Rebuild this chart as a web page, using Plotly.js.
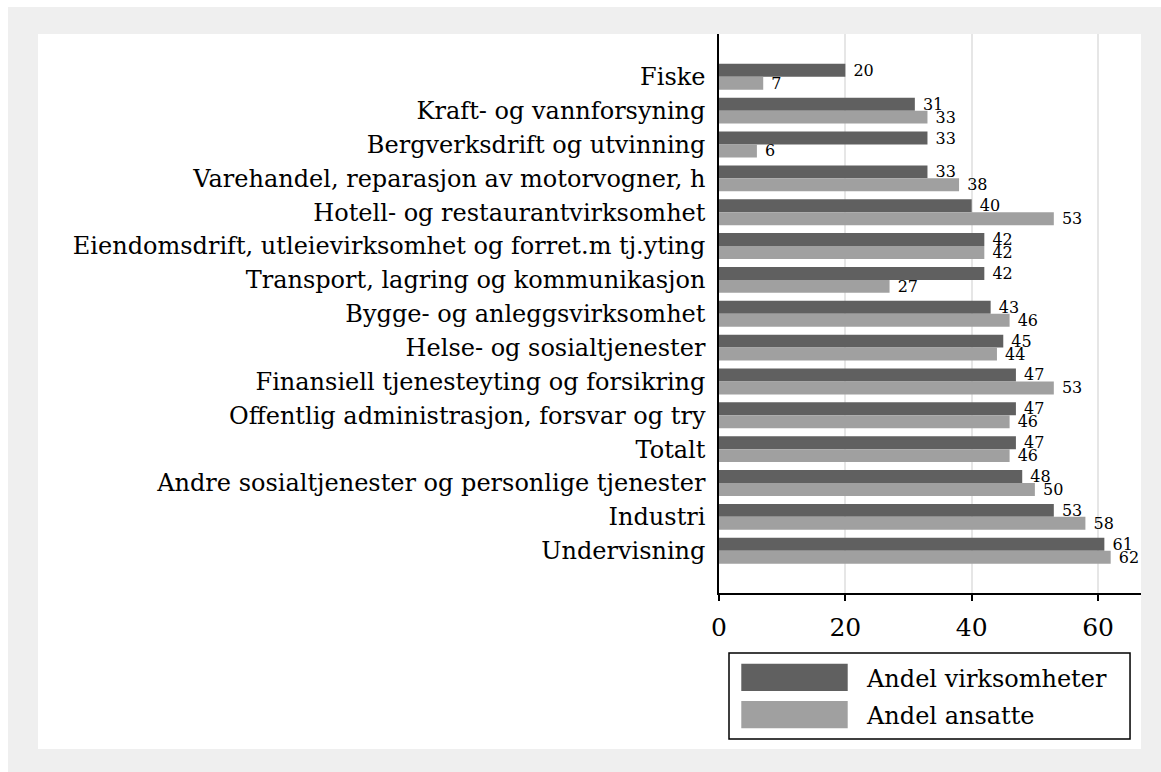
<!DOCTYPE html>
<html>
<head>
<meta charset="utf-8">
<script src="https://cdn.plot.ly/plotly-3.0.1.min.js"></script>
<style>
  html, body { margin: 0; padding: 0; background: #ffffff; }
  #frame { position: absolute; left: 8px; top: 7px; width: 1153px; height: 765px; background: #efefef; }
  #chart { position: absolute; left: 30px; top: 27px; width: 1103px; height: 715px; }
</style>
</head>
<body>
<div id="frame"><div id="chart"></div></div>
<script>
const categories = [
  "Fiske",
  "Kraft- og vannforsyning",
  "Bergverksdrift og utvinning",
  "Varehandel, reparasjon av motorvogner, h",
  "Hotell- og restaurantvirksomhet",
  "Eiendomsdrift, utleievirksomhet og forret.m tj.yting",
  "Transport, lagring og kommunikasjon",
  "Bygge- og anleggsvirksomhet",
  "Helse- og sosialtjenester",
  "Finansiell tjenesteyting og forsikring",
  "Offentlig administrasjon, forsvar og try",
  "Totalt",
  "Andre sosialtjenester og personlige tjenester",
  "Industri",
  "Undervisning"
];
const andelVirksomheter = [20, 31, 33, 33, 40, 42, 42, 43, 45, 47, 47, 47, 48, 53, 61];
const andelAnsatte      = [7, 33, 6, 38, 53, 42, 27, 46, 44, 53, 46, 46, 50, 58, 62];
const seriesNames = ["Andel virksomheter", "Andel ansatte"];
const xTicks = [0, 20, 40, 60];

const FONT = "DejaVu Serif, Liberation Serif, serif";
const DARK = "#606060";
const LIGHT = "#a0a0a0";

function barTrace(vals, name, color) {
  return {
    type: "bar", orientation: "h",
    y: categories, x: vals, name: name,
    marker: { color: color, line: { width: 0 } },
    texttemplate: "\u00a0%{x}",
    textposition: "outside",
    constraintext: "none",
    cliponaxis: false,
    textfont: { family: FONT, size: 16, color: "#000000" },
    hoverinfo: "x+y",
    showlegend: false
  };
}

const data = [
  barTrace(andelVirksomheter, seriesNames[0], DARK),
  barTrace(andelAnsatte, seriesNames[1], LIGHT)
];

const layout = {
  width: 1103, height: 715,
  margin: { l: 681, r: 0, t: 0, b: 156, pad: 0 },
  paper_bgcolor: "#ffffff",
  plot_bgcolor: "#ffffff",
  barmode: "group",
  bargap: 0.235,
  bargroupgap: 0,
  font: { family: FONT, color: "#000000" },
  xaxis: {
    range: [0, 66.8],
    tickvals: xTicks,
    ticktext: xTicks.map(String),
    showgrid: true, gridcolor: "#e6e6e6", gridwidth: 2,
    zeroline: false,
    showline: true, linecolor: "#000000", linewidth: 1.5,
    ticks: "outside", ticklen: 6, tickwidth: 1.5, tickcolor: "#000000",
    ticklabelstandoff: 5,
    tickfont: { family: FONT, size: 25, color: "#000000" }
  },
  yaxis: {
    type: "category",
    range: [15.25, -1.265],
    showgrid: false, zeroline: false,
    showline: true, linecolor: "#000000", linewidth: 1.5,
    ticks: "",
    ticklabelstandoff: 7,
    tickfont: { family: FONT, size: 24, color: "#000000" }
  },
  shapes: [
    { type: "rect", xref: "paper", yref: "paper", x0: 0.0237, x1: 0.974, y0: -0.2612, y1: -0.1073,
      line: { color: "#000000", width: 1.5 }, fillcolor: "#ffffff" },
    { type: "rect", xref: "paper", yref: "paper", x0: 0.0528, x1: 0.305, y0: -0.1753, y1: -0.1265,
      line: { width: 0 }, fillcolor: DARK },
    { type: "rect", xref: "paper", yref: "paper", x0: 0.0528, x1: 0.305, y0: -0.242, y1: -0.1932,
      line: { width: 0 }, fillcolor: LIGHT }
  ],
  annotations: [
    { xref: "paper", yref: "paper", x: 0.3443, y: -0.1538, xanchor: "left", yanchor: "middle",
      text: seriesNames[0], showarrow: false, font: { family: FONT, size: 24, color: "#000000" } },
    { xref: "paper", yref: "paper", x: 0.3443, y: -0.2200, xanchor: "left", yanchor: "middle",
      text: seriesNames[1], showarrow: false, font: { family: FONT, size: 24, color: "#000000" } }
  ]
};

Plotly.newPlot("chart", data, layout, { displayModeBar: false, responsive: false });
</script>
</body>
</html>
